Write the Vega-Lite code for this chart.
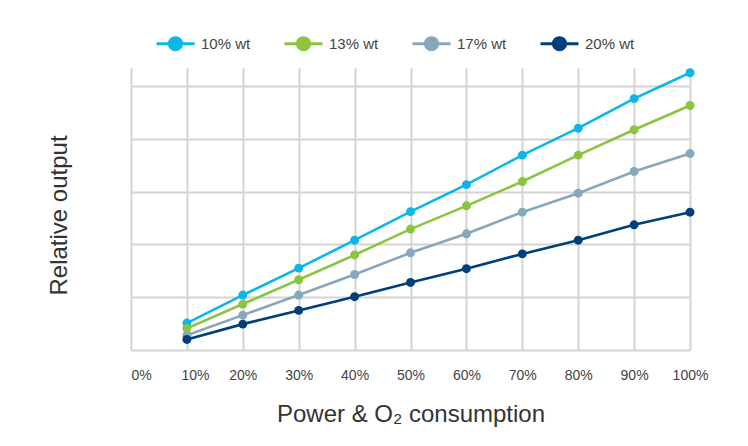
{
  "$schema": "https://vega.github.io/schema/vega-lite/v6.json",
  "width": 559,
  "height": 282,
  "autosize": {"type": "none"},
  "padding": {"left": 131, "top": 68, "right": 58, "bottom": 96},
  "background": "white",
  "config": {
    "font": "Liberation Sans",
    "view": {"stroke": null},
    "axis": {"gridColor": "#d4d4d4", "gridWidth": 2, "gridOpacity": 1, "labelColor": "#444", "titleColor": "#333", "titleFontWeight": "normal"}
  },
  "data": {
    "values": [
      {"series": "10% wt", "power": 10, "output": 0.51},
      {"series": "10% wt", "power": 20, "output": 1.04},
      {"series": "10% wt", "power": 30, "output": 1.55},
      {"series": "10% wt", "power": 40, "output": 2.08},
      {"series": "10% wt", "power": 50, "output": 2.62},
      {"series": "10% wt", "power": 60, "output": 3.13},
      {"series": "10% wt", "power": 70, "output": 3.69},
      {"series": "10% wt", "power": 80, "output": 4.2},
      {"series": "10% wt", "power": 90, "output": 4.76},
      {"series": "10% wt", "power": 100, "output": 5.25},
      {"series": "13% wt", "power": 10, "output": 0.41},
      {"series": "13% wt", "power": 20, "output": 0.87},
      {"series": "13% wt", "power": 30, "output": 1.33},
      {"series": "13% wt", "power": 40, "output": 1.8},
      {"series": "13% wt", "power": 50, "output": 2.29},
      {"series": "13% wt", "power": 60, "output": 2.73},
      {"series": "13% wt", "power": 70, "output": 3.19},
      {"series": "13% wt", "power": 80, "output": 3.69},
      {"series": "13% wt", "power": 90, "output": 4.17},
      {"series": "13% wt", "power": 100, "output": 4.63},
      {"series": "17% wt", "power": 10, "output": 0.28},
      {"series": "17% wt", "power": 20, "output": 0.66},
      {"series": "17% wt", "power": 30, "output": 1.04},
      {"series": "17% wt", "power": 40, "output": 1.43},
      {"series": "17% wt", "power": 50, "output": 1.84},
      {"series": "17% wt", "power": 60, "output": 2.2},
      {"series": "17% wt", "power": 70, "output": 2.61},
      {"series": "17% wt", "power": 80, "output": 2.97},
      {"series": "17% wt", "power": 90, "output": 3.38},
      {"series": "17% wt", "power": 100, "output": 3.72},
      {"series": "20% wt", "power": 10, "output": 0.2},
      {"series": "20% wt", "power": 20, "output": 0.49},
      {"series": "20% wt", "power": 30, "output": 0.75},
      {"series": "20% wt", "power": 40, "output": 1.01},
      {"series": "20% wt", "power": 50, "output": 1.28},
      {"series": "20% wt", "power": 60, "output": 1.54},
      {"series": "20% wt", "power": 70, "output": 1.82},
      {"series": "20% wt", "power": 80, "output": 2.08},
      {"series": "20% wt", "power": 90, "output": 2.37},
      {"series": "20% wt", "power": 100, "output": 2.61}
    ]
  },
  "mark": {"type": "line", "strokeWidth": 2.6, "point": {"filled": true, "size": 80, "opacity": 1}},
  "encoding": {
    "x": {
      "field": "power", "type": "quantitative",
      "scale": {"domain": [0, 100], "nice": false},
      "axis": {
        "values": [0, 10, 20, 30, 40, 50, 60, 70, 80, 90, 100],
        "labelExpr": "datum.value + '%'",
        "labelAlign": {"condition": {"test": "datum.value == 0", "value": "left"}, "value": "center"},
        "labelOffset": {"condition": {"test": "datum.value == 10", "value": 8}, "value": 0},
        "ticks": false, "domain": false,
        "labelFontSize": 14, "labelPadding": 18,
        "title": "Power & O₂ consumption", "titleFontSize": 24, "titlePadding": 20
      }
    },
    "y": {
      "field": "output", "type": "quantitative",
      "scale": {"domain": [0, 5.34], "nice": false},
      "axis": {
        "values": [0, 1, 2, 3, 4, 5],
        "labels": false, "ticks": false, "domain": false,
        "title": "Relative output", "titleFontSize": 24, "titlePadding": 60, "titleY": 147
      }
    },
    "color": {
      "field": "series", "type": "nominal",
      "scale": {"domain": ["10% wt", "13% wt", "17% wt", "20% wt"], "range": ["#0cb6e6", "#8bc53f", "#86a8bd", "#00407a"]},
      "legend": {
        "title": null, "orient": "none", "direction": "horizontal",
        "legendX": 24, "legendY": -45,
        "symbolType": "M-1,0H1M-0.32,0A0.32,0.32 0 1,0 0.32,0A0.32,0.32 0 1,0 -0.32,0Z",
        "symbolSize": 1444, "symbolStrokeWidth": 3,
        "labelFontSize": 15, "labelColor": "#444", "labelOffset": 5, "columnPadding": 27,
        "encode": {"symbols": {"update": {"fill": {"signal": "scale('color', datum.value)"}, "stroke": {"signal": "scale('color', datum.value)"}, "opacity": {"value": 1}}}}
      }
    }
  }
}
